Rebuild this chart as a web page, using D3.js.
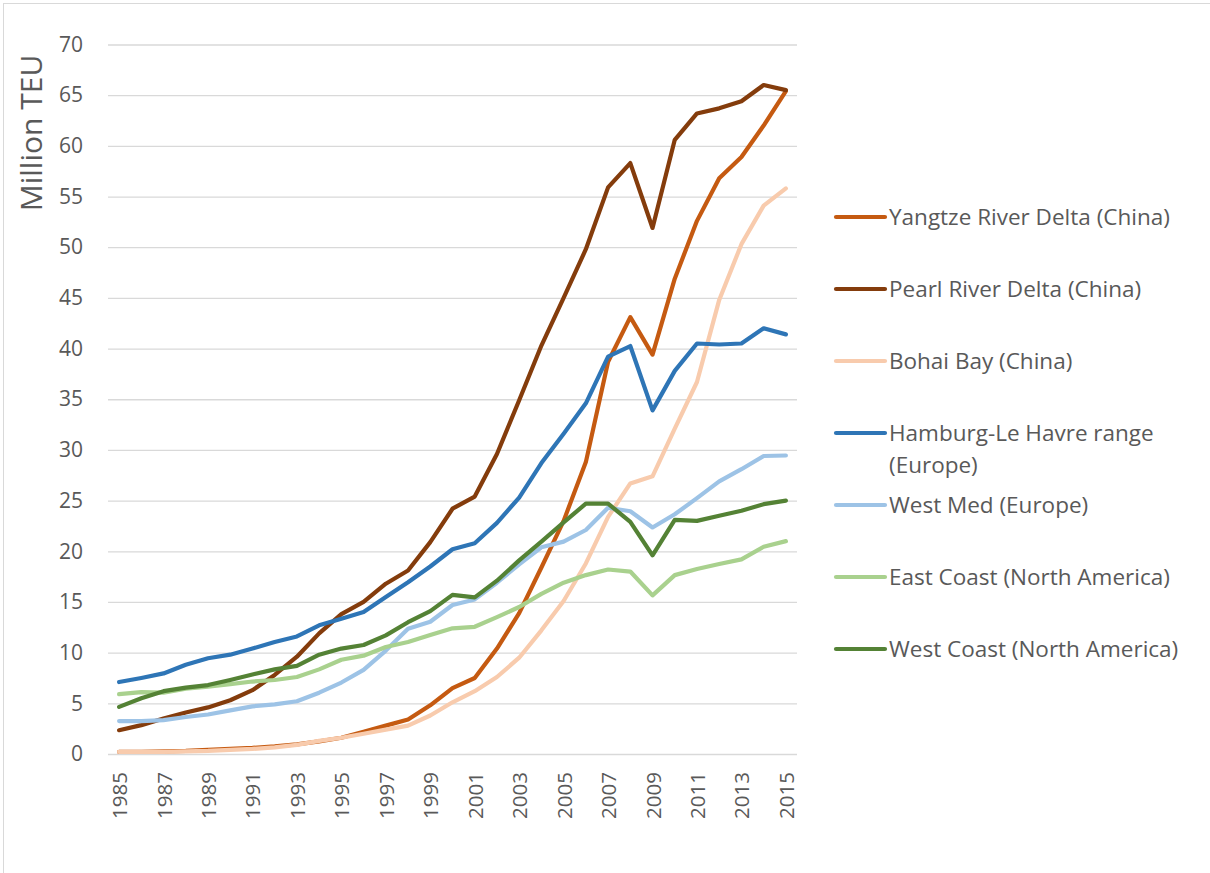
<!DOCTYPE html>
<html>
<head>
<meta charset="utf-8">
<script src="https://cdn.jsdelivr.net/npm/d3@7"></script>
<style>
  html, body { margin: 0; padding: 0; background: #fff; }
  svg { display: block; }
  text { font-family: "Open Sans", Lato, sans-serif; fill: #595959; }
</style>
</head>
<body>
<svg id="chart" width="1210" height="873"></svg>
<script>
// Container throughput of major port ranges, million TEU
const years = d3.range(1985, 2016);
const yTicks = [0, 5, 10, 15, 20, 25, 30, 35, 40, 45, 50, 55, 60, 65, 70];

const seriesNames = [
  "Yangtze River Delta (China)",
  "Pearl River Delta (China)",
  "Bohai Bay (China)",
  "Hamburg-Le Havre range (Europe)",
  "West Med (Europe)",
  "East Coast (North America)",
  "West Coast (North America)"
];
const seriesColors = ["#C55A11", "#843C0C", "#F8CBAD", "#2E75B6", "#9DC3E6", "#A9D18E", "#548235"];

const yangtze = [0.2, 0.2, 0.25, 0.3, 0.4, 0.5, 0.6, 0.75, 0.95, 1.25, 1.6, 2.2, 2.8, 3.4, 4.8, 6.5, 7.5, 10.4, 13.9, 18.4, 23.0, 28.8, 38.7, 43.1, 39.4, 46.9, 52.6, 56.8, 58.9, 62.0, 65.4];
const pearl = [2.35, 2.85, 3.5, 4.1, 4.6, 5.3, 6.3, 7.8, 9.6, 11.9, 13.8, 15.0, 16.8, 18.1, 20.9, 24.2, 25.4, 29.6, 34.9, 40.3, 45.0, 49.8, 55.9, 58.3, 51.9, 60.6, 63.2, 63.7, 64.4, 66.0, 65.5];
const bohai = [0.2, 0.2, 0.2, 0.25, 0.3, 0.4, 0.5, 0.65, 0.9, 1.3, 1.6, 2.0, 2.4, 2.8, 3.8, 5.1, 6.2, 7.6, 9.5, 12.2, 15.1, 18.8, 23.4, 26.7, 27.4, 32.1, 36.7, 44.8, 50.3, 54.1, 55.8];
const hamburg = [7.1, 7.5, 7.95, 8.8, 9.45, 9.8, 10.4, 11.05, 11.6, 12.7, 13.35, 14.0, 15.5, 16.95, 18.5, 20.2, 20.8, 22.8, 25.3, 28.7, 31.6, 34.6, 39.2, 40.25, 33.9, 37.8, 40.5, 40.4, 40.5, 42.0, 41.4];
const westMed = [3.25, 3.25, 3.35, 3.65, 3.9, 4.3, 4.7, 4.9, 5.2, 6.05, 7.05, 8.3, 10.2, 12.35, 13.05, 14.7, 15.25, 16.9, 18.7, 20.4, 20.95, 22.1, 24.3, 23.95, 22.35, 23.65, 25.25, 26.9, 28.1, 29.4, 29.45];
const eastCoast = [5.9, 6.1, 6.05, 6.45, 6.65, 6.9, 7.15, 7.3, 7.6, 8.35, 9.3, 9.7, 10.55, 11.05, 11.75, 12.4, 12.55, 13.5, 14.5, 15.8, 16.9, 17.65, 18.2, 18.0, 15.65, 17.65, 18.25, 18.75, 19.2, 20.45, 21.0];
const westCoast = [4.65, 5.5, 6.2, 6.55, 6.8, 7.3, 7.85, 8.35, 8.7, 9.8, 10.4, 10.75, 11.7, 13.0, 14.1, 15.7, 15.45, 17.1, 19.1, 20.95, 22.85, 24.7, 24.7, 22.9, 19.6, 23.1, 23.0, 23.5, 24.0, 24.65, 25.0];

const seriesValues = [yangtze, pearl, bohai, hamburg, westMed, eastCoast, westCoast];

const svg = d3.select("#chart");

// chart area frame (only top and left edges fall inside the canvas)
svg.append("rect")
  .attr("x", 3.5).attr("y", 3.5)
  .attr("width", 1230).attr("height", 900)
  .attr("fill", "none").attr("stroke", "#D9D9D9").attr("stroke-width", 1);

const plot = { left: 108, right: 797, top: 44.5, bottom: 754 };

const x = d3.scalePoint()
  .domain(years)
  .range([plot.left, plot.right])
  .padding(0.5);

const y = d3.scaleLinear()
  .domain([0, 70])
  .range([plot.bottom, plot.top]);

// horizontal gridlines
const yAxis = d3.axisLeft(y)
  .tickValues(yTicks)
  .tickSize(-(plot.right - plot.left))
  .tickPadding(25)
  .tickFormat(d3.format("d"));

const gy = svg.append("g")
  .attr("transform", `translate(${plot.left},0)`)
  .call(yAxis);
gy.select(".domain").remove();
gy.selectAll(".tick line").attr("stroke", "#D9D9D9").attr("stroke-width", 1.3);
gy.selectAll(".tick text")
  .attr("font-size", 21)
  .attr("fill", "#595959")
  .attr("font-family", "'Open Sans', Lato, sans-serif");

// x axis: every other year, rotated labels
const xAxis = d3.axisBottom(x)
  .tickValues(years.filter(d => (d - 1985) % 2 === 0))
  .tickSize(0)
  .tickPadding(0)
  .tickFormat(d3.format("d"));

const gx = svg.append("g")
  .attr("transform", `translate(0,${plot.bottom})`)
  .call(xAxis);
gx.select(".domain").remove();
gx.selectAll(".tick text")
  .attr("font-size", 20.5)
  .attr("fill", "#595959")
  .attr("font-family", "'Open Sans', Lato, sans-serif")
  .attr("text-anchor", "end")
  .attr("dy", null)
  .attr("transform", "translate(7.5,18) rotate(-90)")
  .attr("dominant-baseline", "auto");

// y axis title
svg.append("text")
  .attr("transform", "translate(42,133) rotate(-90)")
  .attr("text-anchor", "middle")
  .attr("font-size", 30)
  .attr("fill", "#595959")
  .text("Million TEU");

// series lines
const line = d3.line()
  .x((d, i) => x(years[i]))
  .y(d => y(d))
  .curve(d3.curveLinear);

svg.append("g").selectAll("path")
  .data(seriesValues)
  .join("path")
  .attr("d", d => line(d))
  .attr("fill", "none")
  .attr("stroke", (d, i) => seriesColors[i])
  .attr("stroke-width", 4.2)
  .attr("stroke-linejoin", "round")
  .attr("stroke-linecap", "round");

// legend
const legendRows = [
  { lines: ["Yangtze River Delta (China)"], y: 217 },
  { lines: ["Pearl River Delta (China)"], y: 289 },
  { lines: ["Bohai Bay (China)"], y: 361 },
  { lines: ["Hamburg-Le Havre range", "(Europe)"], y: 433 },
  { lines: ["West Med (Europe)"], y: 505 },
  { lines: ["East Coast (North America)"], y: 577 },
  { lines: ["West Coast (North America)"], y: 649 }
];

const legend = svg.append("g");
legendRows.forEach((row, i) => {
  legend.append("line")
    .attr("x1", 836).attr("x2", 885)
    .attr("y1", row.y).attr("y2", row.y)
    .attr("stroke", seriesColors[i])
    .attr("stroke-width", 4.2)
    .attr("stroke-linecap", "round");
  const t = legend.append("text")
    .attr("x", 889)
    .attr("y", row.y + 8)
    .attr("font-size", 22.5)
    .attr("fill", "#595959");
  row.lines.forEach((s, k) => {
    t.append("tspan")
      .attr("x", 889)
      .attr("dy", k === 0 ? 0 : 32)
      .text(s);
  });
});
</script>
</body>
</html>
